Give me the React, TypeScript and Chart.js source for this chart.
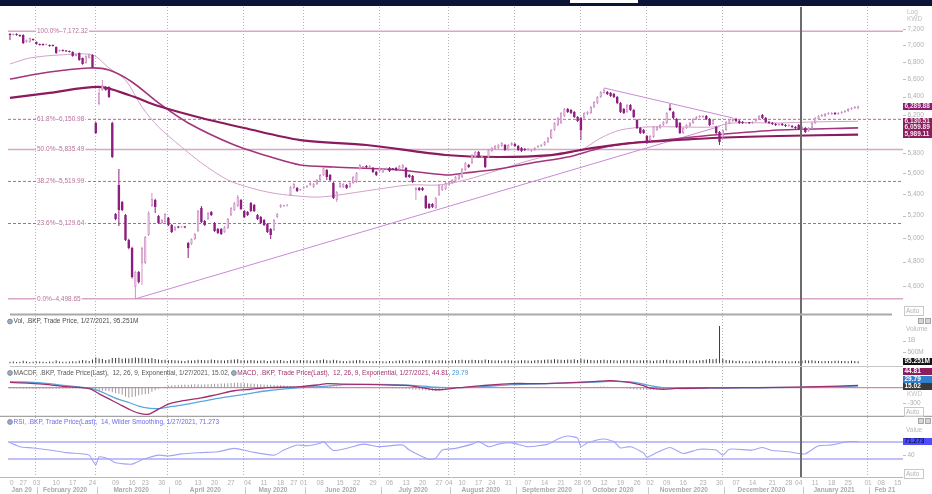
import React, { useEffect, useRef } from "react";
import { Chart, registerables } from "chart.js";

Chart.register(...registerables);

// ---------------- DATA (trading-day index 0 = 20 Jan 2020) ----------------
const openPrices = [
  7137, 7125, 7137, 7125, 7125, 7039, 7039, 7075, 7039, 7014,
  7014, 7002, 7002, 7002, 6978, 6929, 6941, 6929, 6929, 6917,
  6869, 6905, 6845, 6786, 6845, 6881, 6112, 6318, 6474, 6508,
  6508, 6112, 5215, 5486, 5325, 5206, 4984, 4915, 4592, 4714,
  4788, 4788, 5028, 5289, 5344, 5197, 5134, 5143, 5179, 5116,
  5072, 5098, 5094, 5100, 4958, 4950, 4993, 5063, 5270, 5152,
  5170, 5234, 5134, 5081, 5081, 5054, 5090, 5206, 5252, 5289,
  5344, 5243, 5234, 5316, 5298, 5206, 5188, 5161, 5125, 5081,
  5072, 5188, 5280, 5289, 5292, 5391, 5457, 5457, 5438, 5457,
  5467, 5486, 5467, 5496, 5534, 5583, 5631, 5583, 5505, 5344,
  5467, 5467, 5486, 5467, 5505, 5515, 5641, 5661, 5671, 5661,
  5651, 5612, 5622, 5612, 5641, 5651, 5641, 5651, 5641, 5651,
  5651, 5583, 5573, 5438, 5457, 5457, 5382, 5307, 5307, 5270,
  5391, 5438, 5448, 5486, 5505, 5525, 5544, 5563, 5631, 5681,
  5701, 5760, 5811, 5760, 5760, 5760, 5821, 5841, 5851, 5872,
  5882, 5831, 5882, 5892, 5872, 5851, 5841, 5831, 5821, 5831,
  5862, 5872, 5882, 5913, 5954, 6038, 6091, 6112, 6187, 6263,
  6252, 6230, 6176, 6166, 6166, 6209, 6220, 6285, 6329, 6396,
  6441, 6452, 6441, 6429, 6396, 6329, 6263, 6230, 6307, 6252,
  6144, 6059, 6038, 5975, 5933, 5964, 6038, 6059, 6091, 6112,
  6274, 6230, 6155, 6112, 6006, 6059, 6080, 6112, 6155, 6176,
  6176, 6187, 6155, 6102, 6070, 6017, 5964, 6038, 6112, 6134,
  6155, 6134, 6123, 6112, 6115, 6112, 6134, 6155, 6198, 6166,
  6123, 6112, 6102, 6091, 6102, 6091, 6080, 6080, 6070, 6091,
  6049, 6059, 6027, 6059, 6112, 6155, 6187, 6187, 6209, 6209,
  6220, 6209, 6220, 6230, 6241, 6263, 6274, 6270,
];
const highPrices = [
  7150, 7145, 7148, 7132, 7135, 7070, 7095, 7082, 7045, 7020,
  7020, 7020, 7008, 7008, 6985, 6948, 6947, 6936, 6935, 6925,
  6900, 6912, 6852, 6878, 6900, 6890, 6125, 6497, 6588, 6520,
  6515, 6125, 5225, 5641, 5335, 5215, 4995, 4925, 4725, 4722,
  4925, 5020, 5240, 5410, 5355, 5206, 5170, 5225, 5188, 5125,
  5107, 5107, 5108, 5106, 4966, 5000, 5046, 5252, 5289, 5161,
  5234, 5243, 5143, 5090, 5090, 5107, 5179, 5280, 5325, 5391,
  5353, 5252, 5243, 5325, 5307, 5215, 5197, 5170, 5134, 5090,
  5170, 5224, 5307, 5300, 5306, 5476, 5505, 5467, 5448, 5476,
  5486, 5515, 5505, 5544, 5592, 5661, 5641, 5592, 5515, 5429,
  5515, 5505, 5496, 5515, 5573, 5612, 5691, 5671, 5681, 5681,
  5661, 5622, 5661, 5651, 5655, 5661, 5650, 5661, 5681, 5691,
  5661, 5592, 5583, 5467, 5467, 5467, 5391, 5316, 5316, 5372,
  5496, 5486, 5515, 5525, 5544, 5573, 5592, 5651, 5711, 5691,
  5790, 5821, 5821, 5775, 5770, 5841, 5862, 5882, 5892, 5913,
  5892, 5892, 5913, 5902, 5882, 5862, 5851, 5851, 5841, 5862,
  5882, 5892, 5923, 5964, 6049, 6123, 6176, 6230, 6274, 6274,
  6263, 6241, 6187, 6176, 6230, 6241, 6296, 6351, 6407, 6463,
  6497, 6463, 6452, 6441, 6407, 6340, 6274, 6318, 6318, 6263,
  6155, 6070, 6049, 5985, 5985, 6080, 6080, 6102, 6134, 6230,
  6318, 6241, 6166, 6123, 6070, 6102, 6123, 6166, 6187, 6198,
  6198, 6198, 6166, 6155, 6080, 6027, 6049, 6134, 6155, 6166,
  6166, 6144, 6134, 6123, 6123, 6134, 6166, 6198, 6209, 6176,
  6134, 6123, 6112, 6112, 6112, 6102, 6102, 6091, 6080, 6102,
  6080, 6070, 6070, 6123, 6176, 6198, 6209, 6220, 6230, 6230,
  6230, 6230, 6241, 6252, 6274, 6285, 6296, 6300,
];
const lowPrices = [
  7063, 7118, 7115, 7100, 7015, 7030, 7030, 7055, 7005, 6995,
  6994, 6995, 6982, 6984, 6895, 6920, 6922, 6918, 6910, 6860,
  6862, 6812, 6765, 6778, 6838, 6728, 5995, 6305, 6465, 6465,
  6385, 5750, 5160, 5107, 5240, 4975, 4905, 4660, 4499, 4620,
  4608, 4780, 5020, 5280, 5224, 5125, 5125, 5135, 5107, 5046,
  5063, 5088, 5090, 5088, 4830, 4942, 4985, 5054, 5134, 5107,
  5161, 5197, 5054, 5037, 5028, 5046, 5081, 5197, 5243, 5280,
  5252, 5179, 5197, 5234, 5234, 5161, 5125, 5107, 5046, 4993,
  5063, 5179, 5270, 5282, 5285, 5382, 5448, 5419, 5430, 5448,
  5457, 5476, 5457, 5486, 5525, 5573, 5534, 5525, 5353, 5325,
  5457, 5457, 5448, 5457, 5496, 5505, 5631, 5651, 5651, 5651,
  5602, 5573, 5612, 5602, 5632, 5612, 5630, 5622, 5631, 5641,
  5553, 5553, 5505, 5344, 5429, 5429, 5261, 5261, 5270, 5261,
  5382, 5429, 5438, 5476, 5496, 5515, 5534, 5553, 5622, 5651,
  5691, 5750, 5750, 5750, 5651, 5750, 5811, 5831, 5841, 5862,
  5821, 5821, 5872, 5862, 5821, 5811, 5821, 5821, 5811, 5821,
  5851, 5862, 5872, 5902, 5943, 6027, 6080, 6102, 6176, 6220,
  6209, 6166, 6123, 5933, 6155, 6198, 6209, 6274, 6318, 6385,
  6429, 6418, 6396, 6385, 6318, 6220, 6209, 6220, 6241, 6166,
  6049, 5996, 5996, 5892, 5923, 5954, 6027, 6049, 6080, 6102,
  6241, 6155, 6059, 5996, 5996, 6049, 6070, 6102, 6144, 6166,
  6166, 6144, 6080, 6091, 5996, 5882, 5954, 6027, 6102, 6123,
  6123, 6102, 6102, 6102, 6102, 6102, 6123, 6144, 6155, 6112,
  6102, 6091, 6080, 6080, 6080, 6070, 6070, 6059, 6049, 6038,
  6038, 6006, 6017, 6049, 6102, 6144, 6176, 6176, 6198, 6198,
  6198, 6198, 6209, 6220, 6230, 6252, 6263, 6260,
];
const closePrices = [
  7125, 7137, 7125, 7112, 7026, 7063, 7088, 7063, 7014, 7002,
  7002, 7014, 6990, 6990, 6905, 6941, 6929, 6925, 6917, 6869,
  6893, 6821, 6774, 6869, 6893, 6738, 6006, 6441, 6531, 6474,
  6396, 5760, 5170, 5252, 5252, 4984, 4915, 4673, 4714, 4632,
  4915, 5011, 5224, 5353, 5280, 5134, 5161, 5215, 5116, 5054,
  5098, 5094, 5100, 5096, 4915, 4993, 5037, 5243, 5143, 5116,
  5224, 5206, 5063, 5046, 5037, 5098, 5170, 5270, 5316, 5372,
  5261, 5188, 5206, 5243, 5243, 5170, 5134, 5116, 5054, 5028,
  5161, 5215, 5298, 5292, 5298, 5467, 5496, 5429, 5440, 5467,
  5476, 5505, 5496, 5534, 5583, 5651, 5563, 5534, 5363, 5419,
  5505, 5496, 5457, 5505, 5563, 5602, 5681, 5665, 5661, 5671,
  5612, 5583, 5651, 5641, 5645, 5622, 5638, 5631, 5671, 5681,
  5563, 5563, 5515, 5457, 5438, 5438, 5270, 5270, 5280, 5363,
  5486, 5476, 5505, 5515, 5534, 5563, 5583, 5641, 5701, 5661,
  5780, 5811, 5760, 5765, 5661, 5831, 5851, 5872, 5882, 5902,
  5831, 5882, 5902, 5872, 5831, 5821, 5831, 5841, 5831, 5851,
  5872, 5882, 5913, 5954, 6038, 6112, 6166, 6220, 6263, 6230,
  6220, 6176, 6134, 6038, 6220, 6230, 6285, 6340, 6396, 6452,
  6474, 6429, 6407, 6396, 6329, 6230, 6220, 6307, 6252, 6176,
  6059, 6006, 6006, 5902, 5975, 6070, 6070, 6091, 6123, 6220,
  6252, 6166, 6070, 6006, 6059, 6091, 6112, 6155, 6176, 6187,
  6187, 6155, 6091, 6144, 6006, 5913, 6038, 6123, 6144, 6155,
  6134, 6112, 6112, 6115, 6110, 6123, 6155, 6187, 6166, 6123,
  6112, 6102, 6091, 6102, 6091, 6080, 6091, 6070, 6059, 6049,
  6070, 6017, 6059, 6112, 6166, 6187, 6198, 6209, 6220, 6220,
  6209, 6220, 6230, 6241, 6263, 6274, 6285, 6289.88,
];
// volume in millions
const volumesM = [
  65, 80, 55, 70, 110, 75, 60, 70, 85, 75,
  70, 60, 80, 65, 125, 85, 70, 65, 80, 95,
  75, 115, 150, 120, 105, 170, 260, 210, 190, 150,
  170, 240, 230, 250, 200, 220, 210, 230, 260, 240,
  250, 220, 200, 230, 190, 170, 150, 160, 140, 150,
  130, 120, 110, 100, 140, 120, 130, 160, 150, 140,
  130, 170, 150, 130, 140, 120, 150, 160, 170, 180,
  140, 130, 120, 150, 140, 110, 120, 130, 100, 110,
  130, 120, 150, 110, 100, 140, 130, 120, 150, 130,
  140, 120, 110, 130, 150, 170, 140, 120, 160, 130,
  110, 100, 90, 110, 120, 140, 150, 110, 90, 100,
  95, 105, 100, 90, 85, 100, 95, 110, 120, 130,
  110, 140, 120, 100, 90, 110, 150, 130, 120, 110,
  140, 130, 120, 110, 140, 130, 150, 160, 140, 130,
  160, 150, 140, 130, 170, 150, 140, 120, 130, 110,
  140, 130, 120, 110, 120, 130, 140, 120, 110, 130,
  150, 140, 160, 170, 160, 180, 170, 160, 150, 170,
  160, 180, 150, 200, 170, 160, 150, 140, 130, 150,
  160, 140, 150, 130, 120, 140, 130, 150, 140, 130,
  120, 140, 130, 150, 120, 110, 130, 140, 150, 160,
  130, 120, 110, 130, 140, 150, 120, 130, 110, 140,
  150, 170, 190, 180, 200, 1650, 200, 150, 130, 120,
  100, 110, 90, 95, 85, 100, 110, 95, 90, 120,
  100, 110, 105, 95, 100, 90, 85, 95, 100, 90,
  110, 140, 120, 130, 110, 100, 95, 105, 100, 90,
  115, 110, 105, 100, 95, 110, 100, 95.251,
];
// moving averages [tradingDayIndex, value]
const maShortPoints = [
  [0, 6774], [6, 6845], [15, 6881], [25, 6881], [30, 6727], [35, 6588], [40, 6285],
  [45, 6070], [52, 5862], [58, 5701], [66, 5534], [72, 5467], [78, 5419], [84, 5391],
  [94, 5372], [108, 5430], [121, 5486], [130, 5486], [138, 5534], [148, 5631],
  [158, 5731], [167, 5800], [173, 5831], [179, 5954], [185, 6038], [193, 6070],
  [203, 6070], [213, 6070], [219, 6112], [233, 6112], [243, 6123], [257, 6130.51],
];
const maMidPoints = [
  [0, 6599], [12, 6680], [24, 6727], [30, 6703], [37, 6565], [45, 6329], [54, 6112],
  [68, 5882], [80, 5750], [88, 5681], [98, 5661], [118, 5631], [132, 5583], [138, 5602],
  [148, 5641], [158, 5701], [169, 5760], [179, 5851], [188, 5902], [198, 5933],
  [213, 5985], [233, 6038], [257, 6059.89],
];
const maLongPoints = [
  [0, 6385], [12, 6441], [27, 6508], [36, 6418], [45, 6296], [58, 6166], [71, 6059],
  [88, 5933], [108, 5882], [132, 5780], [148, 5760], [164, 5780], [173, 5831],
  [179, 5862], [188, 5902], [193, 5913], [213, 5954], [233, 5975], [257, 5989.11],
];
const trendUpPoints = [[38, 4498.65], [215, 6075]];
const trendDownPoints = [[180, 6497], [219, 6166]];
// Fibonacci retracement
const fibPercents = ["100.0%", "61.8%", "50.0%", "38.2%", "23.6%", "0.0%"];
const fibValues = [7172.32, 6150.98, 5835.49, 5519.99, 5129.64, 4498.65];
const fibDashed = [false, true, false, true, true, false];
// MACD (12, 26, 9)
const macdLinePoints = [
  [0, 106], [10, 70], [17, 20], [24, -20], [27, -120], [30, -220], [33, -320], [36, -420],
  [39, -500], [42, -520], [45, -420], [48, -320], [52, -260], [58, -200], [63, -130],
  [68, -60], [73, -30], [78, 0], [88, 20], [94, 60], [96, 80], [101, 70], [111, 60],
  [121, 40], [129, -40], [136, 0], [143, 40], [152, 80], [161, 80], [170, 100],
  [177, 120], [182, 140], [188, 100], [192, 40], [194, -10], [198, -30], [202, -15],
  [212, -5], [222, 0], [232, 5], [245, 20], [257, 44.81],
];
const macdSignalPoints = [
  [0, 120], [10, 90], [17, 40], [24, -10], [27, -60], [30, -150], [33, -230], [36, -290],
  [39, -360], [42, -400], [45, -410], [48, -380], [52, -340], [58, -270], [63, -210],
  [68, -160], [73, -110], [78, -60], [88, 0], [94, 20], [101, 60], [111, 65], [121, 50],
  [129, 10], [136, 0], [143, 20], [152, 60], [161, 75], [170, 95], [177, 110], [182, 125],
  [188, 115], [192, 70], [194, 40], [198, 0], [202, -15], [212, -10], [222, -5], [232, 0],
  [245, 15], [257, 29.79],
];
const macdHist = [
  -14, -16, -18, -18, -20, -20, -22, -22, -22, -22,
  -20, -20, -20, -20, -22, -22, -20, -20, -18, -16,
  -14, -16, -18, -14, -12, -30, -80, -70, -60, -64,
  -70, -90, -110, -120, -140, -170, -190, -180, -170, -150,
  -140, -130, -120, -80, -50, -20, 0, 20, 40, 50,
  55, 60, 60, 62, 60, 64, 66, 68, 64, 66,
  70, 72, 76, 78, 80, 82, 88, 92, 96, 100,
  96, 90, 86, 80, 76, 70, 66, 62, 60, 58,
  54, 50, 46, 42, 38, 34, 30, 26, 22, 20,
  24, 28, 32, 36, 40, 38, 34, 30, 26, 22,
  18, 16, 12, 10, 8, 6, 4, 2, 0, -2,
  -4, -6, -8, -10, -10, -12, -14, -16, -18, -20,
  -24, -28, -34, -40, -46, -52, -56, -60, -58, -54,
  -48, -40, -30, -20, -10, 0, 8, 14, 18, 20,
  22, 24, 24, 22, 22, 20, 18, 16, 14, 12,
  12, 14, 14, 12, 10, 8, 6, 4, 2, 4,
  6, 8, 10, 12, 14, 16, 14, 12, 10, 12,
  14, 16, 12, 8, 10, 14, 16, 18, 20, 22,
  22, 20, 16, 10, 4, -4, -12, -20, -26, -32,
  -36, -40, -42, -44, -44, -40, -34, -28, -22, -18,
  -14, -10, -8, -6, -4, -2, 0, 2, 2, 0,
  -2, -4, -6, -8, -10, -12, -10, -6, -2, 0,
  2, 2, 4, 4, 2, 0, -2, -2, 0, 2,
  2, 4, 4, 2, 0, -2, -4, -4, -2, 0,
  2, 4, 6, 8, 8, 10, 10, 12, 12, 12,
  14, 14, 15, 15, 15, 15, 15, 15.02,
];
// RSI (14, Wilder)
const rsiPoints = [
  [0, 68], [3, 59], [7, 56], [12, 51], [17, 45], [22, 42], [24, 39], [26, 16], [27, 35],
  [30, 30], [32, 21], [37, 18], [40, 28], [45, 39], [48, 37], [52, 42], [58, 45], [63, 47],
  [68, 55], [73, 47], [80, 39], [83, 51], [87, 63], [90, 61], [94, 67], [95, 71], [98, 50],
  [103, 57], [107, 65], [112, 59], [119, 63], [121, 51], [127, 29], [129, 32], [131, 51],
  [135, 55], [140, 65], [142, 71], [145, 59], [148, 65], [152, 68], [157, 59], [163, 65],
  [166, 77], [169, 84], [172, 79], [173, 59], [175, 68], [180, 77], [183, 71], [185, 56],
  [188, 59], [192, 44], [193, 34], [196, 45], [200, 57], [204, 43], [209, 53], [214, 51],
  [216, 39], [218, 53], [225, 51], [228, 57], [231, 50], [236, 47], [239, 43], [241, 42],
  [245, 61], [249, 63], [254, 71], [257, 71.273],
];
const rsiBands = [70, 30];
// axes
const priceTicks = [7200, 7000, 6800, 6600, 6400, 6200, 6000, 5800, 5600, 5400, 5200, 5000, 4800, 4600];
const monthStartIdx = [0, 8, 26, 48, 71, 89, 112, 133, 153, 173, 193, 216, 240, 260];
const monthNames = [
  "Jan 20", "February 2020", "March 2020", "April 2020", "May 2020", "June 2020", "July 2020",
  "August 2020", "September 2020", "October 2020", "November 2020", "December 2020",
  "January 2021", "Feb 21",
];
const dayTickIdx = [
  0, 4, 8, 14, 19, 25, 32, 37, 41, 46, 51, 57, 62, 67, 72, 77, 82, 86, 89, 94, 100, 105, 110,
  115, 120, 125, 130, 133, 137, 142, 146, 151, 157, 162, 167, 172, 175, 180, 185, 190, 194,
  199, 204, 210, 215, 220, 225, 231, 236, 239, 244, 249, 254, 260, 264, 269,
];
const dayTickLabels = [
  "20", "27", "03", "10", "17", "24", "09", "16", "23", "30", "06", "13", "20", "27", "04",
  "11", "18", "27", "01", "08", "15", "22", "29", "06", "13", "20", "27", "04", "10", "17",
  "24", "31", "07", "14", "21", "28", "05", "12", "19", "26", "02", "09", "16", "23", "30",
  "07", "14", "21", "28", "04", "11", "18", "25", "01", "08", "15",
];

// ---------------- LAYOUT / STYLE ----------------
const W = 932;
const PLOT_L = 8;
const PLOT_R = 903;
const X_MIN = -0.6;
const X_MAX = 270.6;
const MARK_K = 12; // crosshair at January 2021
const FONT = '"Liberation Sans", Arial, sans-serif';
const C = {
  down: "#8d1d7f",
  upLine: "#cf93c6",
  maShort: "#d3a1c8",
  maMid: "#a3357a",
  maLong: "#8b1a5e",
  trend: "#c98ad6",
  fibSolid: "#d8a6c6",
  fibDash: "#c2609c",
  fibText: "#b8709a",
  grid: "#b4b4b4",
  axisText: "#b0b0b0",
  macd: "#a12d6e",
  signal: "#5aa6e0",
  hist: "#9c9c9c",
  rsi: "#a3a3f8",
  rsiBand: "#8383f6",
};

const pts = (arr) => arr.map(([x, y]) => ({ x, y }));
const isUp = (i) => i !== undefined && closePrices[i] >= openPrices[i];

function txt(ctx, s, x, y, color, size, align = "left", weight = "normal") {
  ctx.save();
  ctx.font = `${weight} ${size}px ${FONT}`;
  ctx.fillStyle = color;
  ctx.textAlign = align;
  ctx.textBaseline = "middle";
  ctx.fillText(s, x, y);
  const w = ctx.measureText(s).width;
  ctx.restore();
  return w;
}
function hline(ctx, y, x0, x1, color, w) {
  ctx.save();
  ctx.strokeStyle = color;
  ctx.lineWidth = w;
  ctx.beginPath();
  ctx.moveTo(x0, y);
  ctx.lineTo(x1, y);
  ctx.stroke();
  ctx.restore();
}
function gridX(chart, k) {
  return chart.scales.x.getPixelForValue(monthStartIdx[k] - 0.3);
}
function drawGrid(chart, y0, y1) {
  const ctx = chart.ctx;
  ctx.save();
  ctx.strokeStyle = C.grid;
  ctx.lineWidth = 1;
  ctx.setLineDash([1, 2]);
  for (let k = 1; k < monthStartIdx.length; k++) {
    if (k === MARK_K) continue;
    const p = Math.round(gridX(chart, k)) + 0.5;
    ctx.beginPath();
    ctx.moveTo(p, y0);
    ctx.lineTo(p, y1);
    ctx.stroke();
  }
  ctx.restore();
}
function drawMarker(chart, y0, y1) {
  const ctx = chart.ctx;
  const p = Math.round(gridX(chart, MARK_K));
  ctx.save();
  ctx.fillStyle = "#6c6c6c";
  ctx.fillRect(p - 1, y0, 2, y1 - y0);
  ctx.restore();
}
function valueBox(ctx, s, yc, bg, fg) {
  ctx.save();
  ctx.fillStyle = bg;
  ctx.fillRect(PLOT_R, Math.round(yc - 3.5), W - PLOT_R, 7);
  ctx.restore();
  txt(ctx, s, PLOT_R + 1.5, Math.round(yc - 3.5) + 3.7, fg, 6.5, "left", "bold");
}
function autoBox(ctx, yc) {
  ctx.save();
  ctx.strokeStyle = "#c8c8c8";
  ctx.lineWidth = 1;
  ctx.strokeRect(904.5, Math.round(yc) - 4.5, 19, 9);
  ctx.restore();
  txt(ctx, "Auto", 906, yc, "#b4b4b4", 6.5);
}
function axisTick(ctx, s, y) {
  hline(ctx, Math.round(y) + 0.5, PLOT_R, PLOT_R + 3, "#c0c0c0", 1);
  txt(ctx, s, PLOT_R + 4.5, y, C.axisText, 6.5);
}
function icon(ctx, x, yc) {
  ctx.save();
  ctx.fillStyle = "#9fb0c2";
  ctx.strokeStyle = "#66788c";
  ctx.lineWidth = 0.8;
  ctx.beginPath();
  ctx.arc(x, yc, 2.4, 0, Math.PI * 2);
  ctx.fill();
  ctx.stroke();
  ctx.restore();
}
function winIcons(ctx, yc) {
  ctx.save();
  ctx.fillStyle = "#d6d6d6";
  ctx.strokeStyle = "#9a9a9a";
  ctx.lineWidth = 0.8;
  ctx.fillRect(918, yc - 3, 6, 6);
  ctx.strokeRect(918.5, yc - 2.5, 5, 5);
  ctx.fillRect(925, yc - 3, 6, 6);
  ctx.strokeRect(925.5, yc - 2.5, 5, 5);
  ctx.restore();
}

function baseOptions(yScale, padTop, padBottom) {
  return {
    responsive: false,
    maintainAspectRatio: false,
    animation: false,
    events: [],
    layout: { padding: { left: PLOT_L, right: W - PLOT_R, top: padTop, bottom: padBottom } },
    plugins: { legend: { display: false }, tooltip: { enabled: false } },
    scales: {
      x: { type: "linear", display: false, min: X_MIN, max: X_MAX, bounds: "data", offset: false },
      y: { display: false, bounds: "data", ...yScale },
    },
  };
}
const lineDs = (data, color, width, order, extra = {}) => ({
  type: "line",
  data,
  borderColor: color,
  borderWidth: width,
  pointRadius: 0,
  tension: 0.3,
  fill: false,
  order,
  ...extra,
});

// ---------------- PANELS ----------------
function priceConfig() {
  const fibSets = fibValues.map((v, k) =>
    lineDs([{ x: X_MIN, y: v }, { x: X_MAX, y: v }], fibDashed[k] ? C.fibDash : C.fibSolid, fibDashed[k] ? 1 : 1.4, 20, {
      borderDash: fibDashed[k] ? [3, 2] : [],
      tension: 0,
    })
  );
  const plugin = {
    id: "priceDecor",
    beforeDatasetsDraw(chart) {
      drawGrid(chart, 7, 316);
    },
    afterDatasetsDraw(chart) {
      const ctx = chart.ctx;
      const ys = chart.scales.y;
      drawMarker(chart, 7, 316);
      // fib labels
      fibValues.forEach((v, k) => {
        const y = ys.getPixelForValue(v);
        const s = `${fibPercents[k]}\u2013${v.toLocaleString("en-US", { minimumFractionDigits: 2 })}`;
        ctx.save();
        ctx.font = `6.5px ${FONT}`;
        const w = ctx.measureText(s).width;
        ctx.fillStyle = "#ffffff";
        ctx.fillRect(36, y - 3.5, w + 2, 7);
        ctx.restore();
        txt(ctx, s, 37, y, C.fibText, 6.5);
      });
      // separator
      hline(ctx, 314.5, 10, 892, "#a9a9a9", 2);
      // right axis
      priceTicks.forEach((v) => axisTick(ctx, v.toLocaleString("en-US"), ys.getPixelForValue(v)));
      txt(ctx, "Log", 907, 12, "#c0c0c0", 6.5);
      txt(ctx, "KWD", 907, 19.5, "#c0c0c0", 6.5);
      const last = closePrices.length - 1;
      valueBox(ctx, closePrices[last].toLocaleString("en-US", { minimumFractionDigits: 2 }), ys.getPixelForValue(closePrices[last]), "#8c1d6e", "#f4e6ef");
      [maShortPoints, maMidPoints, maLongPoints].forEach((arr) => {
        const v = arr[arr.length - 1][1];
        valueBox(ctx, v.toLocaleString("en-US", { minimumFractionDigits: 2 }), ys.getPixelForValue(v), "#8c1d5e", "#f4e6ef");
      });
      autoBox(ctx, 311);
    },
  };
  return {
    type: "bar",
    data: {
      datasets: [
        {
          type: "bar",
          data: closePrices.map((c, i) => ({ x: i, y: [openPrices[i], c] })),
          backgroundColor: (cx) => (isUp(cx.dataIndex) ? "#fdf3fb" : C.down),
          borderColor: (cx) => (isUp(cx.dataIndex) ? C.upLine : C.down),
          borderWidth: (cx) => (isUp(cx.dataIndex) ? 1 : 0),
          borderSkipped: false,
          grouped: false,
          maxBarThickness: 3,
          minBarLength: 1,
          order: 1,
        },
        {
          type: "bar",
          data: highPrices.map((h, i) => ({ x: i, y: [lowPrices[i], h] })),
          backgroundColor: (cx) => (isUp(cx.dataIndex) ? C.upLine : C.down),
          borderWidth: 0,
          grouped: false,
          maxBarThickness: 1,
          order: 2,
        },
        lineDs(pts(maShortPoints), C.maShort, 1, 5),
        lineDs(pts(maMidPoints), C.maMid, 1.6, 4),
        lineDs(pts(maLongPoints), C.maLong, 2.2, 3),
        lineDs(pts(trendUpPoints), C.trend, 1, 6, { tension: 0 }),
        lineDs(pts(trendDownPoints), C.trend, 1, 6, { tension: 0 }),
        ...fibSets,
      ],
    },
    options: baseOptions({ type: "logarithmic", min: 4388.8, max: 7468.4 }, 8, 3),
    plugins: [plugin],
  };
}

function volumeConfig() {
  const plugin = {
    id: "volDecor",
    beforeDatasetsDraw(chart) {
      drawGrid(chart, 0, 51);
    },
    afterDatasetsDraw(chart) {
      const ctx = chart.ctx;
      const ys = chart.scales.y;
      drawMarker(chart, 0, 51);
      hline(ctx, 50.5, 10, 903, "#c6c6c6", 1);
      icon(ctx, 10, 5.5);
      txt(ctx, "Vol, .BKP, Trade Price, 1/27/2021, 95.251M", 13.5, 5.5, "#4a4a4a", 6.5);
      winIcons(ctx, 5);
      txt(ctx, "Volume", 906, 13, "#b8b8b8", 6.5);
      axisTick(ctx, "1B", ys.getPixelForValue(1000));
      axisTick(ctx, "500M", ys.getPixelForValue(500));
      const last = volumesM[volumesM.length - 1];
      valueBox(ctx, `${last}M`, ys.getPixelForValue(last), "#141414", "#ffffff");
    },
  };
  return {
    type: "bar",
    data: {
      datasets: [
        {
          type: "bar",
          data: volumesM.map((v, i) => ({ x: i, y: v })),
          backgroundColor: "#3c3c3c",
          grouped: false,
          maxBarThickness: 1,
        },
      ],
    },
    options: baseOptions({ type: "linear", min: -119, max: 2091 }, 0, 1),
    plugins: [plugin],
  };
}

function macdConfig() {
  const plugin = {
    id: "macdDecor",
    beforeDatasetsDraw(chart) {
      drawGrid(chart, 0, 50);
    },
    afterDatasetsDraw(chart) {
      const ctx = chart.ctx;
      const ys = chart.scales.y;
      drawMarker(chart, 0, 50);
      hline(ctx, 49.5, 0, W, "#a4a4a4", 1.5);
      icon(ctx, 10, 6);
      let x = 13.5;
      x += txt(ctx, "MACDF, .BKP, Trade Price(Last),  12, 26, 9, Exponential, 1/27/2021, 15.02, ", x, 6, "#555555", 6.5);
      icon(ctx, x + 2.5, 6);
      x += 6;
      x += txt(ctx, "MACD, .BKP, Trade Price(Last),  12, 26, 9, Exponential, 1/27/2021, 44.81, ", x, 6, "#a3306f", 6.5);
      txt(ctx, "29.79", x, 6, "#3e95dc", 6.5);
      txt(ctx, "KWD", 907, 27, "#c4c4c4", 6.5);
      axisTick(ctx, "-300", ys.getPixelForValue(-300));
      const lastH = macdHist[macdHist.length - 1];
      const lastS = macdSignalPoints[macdSignalPoints.length - 1][1];
      const lastM = macdLinePoints[macdLinePoints.length - 1][1];
      const yH = ys.getPixelForValue(lastH);
      const yS = Math.min(ys.getPixelForValue(lastS), yH - 7.5);
      const yM = Math.min(ys.getPixelForValue(lastM), yS - 7.5);
      valueBox(ctx, lastM.toFixed(2), yM, "#8c1d5e", "#ffffff");
      valueBox(ctx, lastS.toFixed(2), yS, "#2f7fcf", "#ffffff");
      valueBox(ctx, lastH.toFixed(2), yH, "#3a3a3a", "#ffffff");
      autoBox(ctx, 45);
    },
  };
  return {
    type: "bar",
    data: {
      datasets: [
        {
          type: "bar",
          data: macdHist.map((v, i) => ({ x: i, y: v })),
          backgroundColor: C.hist,
          grouped: false,
          maxBarThickness: 1,
          order: 5,
        },
        lineDs([{ x: X_MIN, y: 0 }, { x: X_MAX, y: 0 }], "#c46a9e", 1, 6, { tension: 0 }),
        lineDs(pts(macdSignalPoints), C.signal, 1.3, 2),
        lineDs(pts(macdLinePoints), C.macd, 1.3, 1),
      ],
    },
    options: baseOptions({ type: "linear", min: -574, max: 386 }, 1, 0),
    plugins: [plugin],
  };
}

function rsiConfig() {
  const plugin = {
    id: "rsiDecor",
    beforeDatasetsDraw(chart) {
      drawGrid(chart, 0, 60);
    },
    afterDatasetsDraw(chart) {
      const ctx = chart.ctx;
      const ys = chart.scales.y;
      const xs = chart.scales.x;
      drawMarker(chart, 0, 60);
      hline(ctx, 60.5, 0, 903, "#b8b8b8", 1);
      icon(ctx, 10, 5);
      txt(ctx, "RSI, .BKP, Trade Price(Last),  14, Wilder Smoothing, 1/27/2021, 71.273", 13.5, 5, "#6b6bef", 6.5);
      winIcons(ctx, 4);
      txt(ctx, "Value", 906, 13, "#b8b8b8", 6.5);
      const last = rsiPoints[rsiPoints.length - 1][1];
      valueBox(ctx, last.toFixed(3), ys.getPixelForValue(last), "#4c4cff", "#12124a");
      axisTick(ctx, "40", ys.getPixelForValue(40));
      autoBox(ctx, 57);
      // bottom axis: days
      ctx.save();
      ctx.beginPath();
      ctx.rect(9.5, 61, W, 40);
      ctx.clip();
      dayTickIdx.forEach((d, k) => {
        txt(ctx, dayTickLabels[k], xs.getPixelForValue(d), 66.5, "#b0b0b0", 6.5, "center");
      });
      ctx.restore();
      // bottom axis: months
      for (let k = 0; k < monthNames.length; k++) {
        const a = k === 0 ? PLOT_L : gridX(chart, k);
        const b = k === monthNames.length - 1 ? PLOT_R : gridX(chart, k + 1);
        txt(ctx, monthNames[k], (a + b) / 2, 73.5, "#aaaaaa", 6.5, "center", "bold");
        if (k > 0) {
          const p = Math.round(a) + 2.5;
          ctx.save();
          ctx.strokeStyle = "#c8c8c8";
          ctx.lineWidth = 1;
          ctx.beginPath();
          ctx.moveTo(p, 70);
          ctx.lineTo(p, 77);
          ctx.stroke();
          ctx.restore();
        }
      }
    },
  };
  return {
    type: "bar",
    data: {
      datasets: [
        ...rsiBands.map((v) => lineDs([{ x: X_MIN, y: v }, { x: X_MAX, y: v }], C.rsiBand, 1.1, 5, { tension: 0 })),
        lineDs(pts(rsiPoints), C.rsi, 1.1, 1, { tension: 0.2 }),
      ],
    },
    options: baseOptions({ type: "linear", min: -12.4, max: 126.5 }, 1, 17),
    plugins: [plugin],
  };
}

export default function App() {
  const priceRef = useRef(null);
  const volRef = useRef(null);
  const macdRef = useRef(null);
  const rsiRef = useRef(null);

  useEffect(() => {
    const charts = [
      new Chart(priceRef.current, priceConfig()),
      new Chart(volRef.current, volumeConfig()),
      new Chart(macdRef.current, macdConfig()),
      new Chart(rsiRef.current, rsiConfig()),
    ];
    return () => charts.forEach((c) => c.destroy());
  }, []);

  const cv = (top) => ({ position: "absolute", left: 0, top, display: "block" });
  return (
    <div style={{ position: "absolute", left: 0, top: 0, width: W, height: 494, background: "#ffffff", overflow: "hidden" }}>
      <canvas ref={priceRef} width={W} height={316} style={cv(0)} />
      <canvas ref={volRef} width={W} height={51} style={cv(316)} />
      <canvas ref={macdRef} width={W} height={50} style={cv(367)} />
      <canvas ref={rsiRef} width={W} height={77} style={cv(417)} />
      <div style={{ position: "absolute", left: 0, top: 0, width: W, height: 6, background: "#0b1535" }} />
      <div style={{ position: "absolute", left: 570, top: 0, width: 68, height: 3, background: "#ffffff" }} />
    </div>
  );
}
